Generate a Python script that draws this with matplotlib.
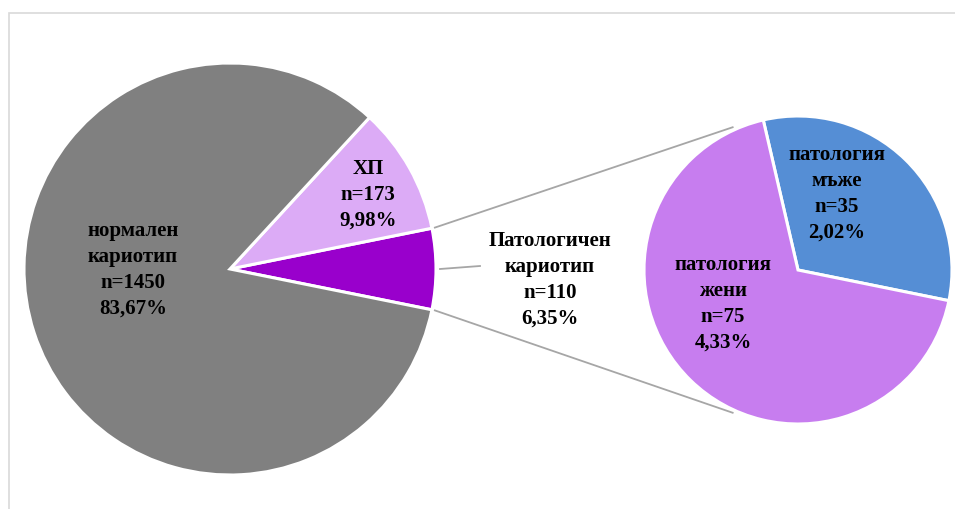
import numpy as np
import matplotlib
matplotlib.use('Agg')
import matplotlib.pyplot as plt
from matplotlib.patches import Rectangle

plt.rcParams['font.family'] = ['Liberation Serif', 'DejaVu Serif']
plt.rcParams['font.weight'] = 'bold'

# main pie: normal, chromosomal polymorphism, pathological karyotype
main_names = ['нормален\nкариотип', 'ХП', 'Патологичен\nкариотип']
main_counts = [1450, 173, 110]
main_colors = ['#808080', '#dcabf6', '#9900cc']

# breakdown of the pathological karyotype by sex
sub_names = ['патология\nмъже', 'патология\nжени']
sub_counts = [35, 75]
sub_colors = ['#558ed5', '#c77def']

total = sum(main_counts)


def pct(n):
    return f'{100 * n / total:.2f}%'.replace('.', ',')


W, H = 955, 509
fig = plt.figure(figsize=(W / 100, H / 100), dpi=100)
ax = fig.add_axes([0, 0, 1, 1])

# chart frame (only left and top edges fall inside the image)
fig.patches.append(Rectangle((8.5 / W, -0.2), 1.2, 1.2 - 12.5 / H,
                             transform=fig.transFigure, fill=False,
                             edgecolor='#d9d9d9', linewidth=1.2))

c1, r1 = (230, H - 269), 206
c2, r2 = (798, H - 270), 154

wp = dict(edgecolor='white', linewidth=2.2)

# pathological slice is centred on the right-hand side
path_span = 360 * main_counts[2] / total
start1 = -path_span / 2
ax.pie(main_counts[::-1], colors=main_colors[::-1], radius=r1, center=c1,
       startangle=start1, counterclock=True, wedgeprops=wp)

ax.pie(sub_counts, colors=sub_colors, radius=r2, center=c2,
       startangle=-11.5, counterclock=True, wedgeprops=wp)

# connector lines between the pies
for sign in (1, -1):
    a1 = np.radians(sign * path_span / 2)
    a2 = np.radians(sign * 114.6)
    p1 = (c1[0] + (r1 + 3) * np.cos(a1), c1[1] + (r1 + 3) * np.sin(a1))
    p2 = (c2[0] + (r2 + 3) * np.cos(a2), c2[1] + (r2 + 3) * np.sin(a2))
    ax.plot([p1[0], p2[0]], [p1[1], p2[1]], color='#a6a6a6', linewidth=1.3)

# leader line for the pathological slice label
ax.plot([c1[0] + r1 + 4, 480], [c1[1], H - 266], color='#a6a6a6', linewidth=1.3)

fs = 15
labels = [
    (f'{main_names[0]}\nn={main_counts[0]}\n{pct(main_counts[0])}', (133, 270)),
    (f'{main_names[1]}\nn={main_counts[1]}\n{pct(main_counts[1])}', (368, 195)),
    (f'{main_names[2]}\nn={main_counts[2]}\n{pct(main_counts[2])}', (550, 280)),
    (f'{sub_names[0]}\nn={sub_counts[0]}\n{pct(sub_counts[0])}', (837, 194)),
    (f'{sub_names[1]}\nn={sub_counts[1]}\n{pct(sub_counts[1])}', (723, 304)),
]
for txt, (x, y) in labels:
    ax.text(x, H - y, txt, ha='center', va='center', fontsize=fs,
            fontweight='bold', color='black', linespacing=1.38)

ax.set_xlim(0, W)
ax.set_ylim(0, H)
ax.set_aspect('equal')
ax.axis('off')

fig.savefig('out.png', dpi=100)
